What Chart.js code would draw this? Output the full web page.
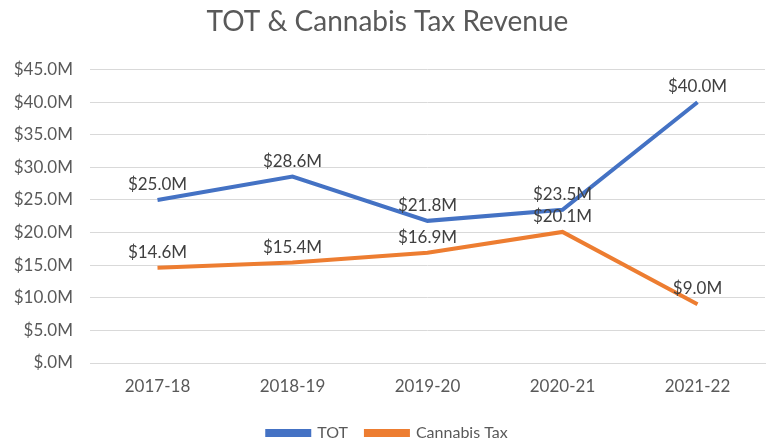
<!DOCTYPE html>
<html>
<head>
<meta charset="utf-8">
<script src="https://cdn.jsdelivr.net/npm/chart.js@4"></script>
<style>
  html, body { margin: 0; padding: 0; background: #fff; }
  #wrap { width: 777px; height: 441px; }
</style>
</head>
<body>
<div id="wrap"><canvas id="revChart"></canvas></div>
<script>
const years = ['2017-18', '2018-19', '2019-20', '2020-21', '2021-22'];
const totRevenue = [25.0, 28.6, 21.8, 23.5, 40.0];
const cannabisRevenue = [14.6, 15.4, 16.9, 20.1, 9.0];

const fmt = v => '$' + (v === 0 ? '.0' : v.toFixed(1)) + 'M';

// draws the value above each point
const valueLabels = {
  id: 'valueLabels',
  afterDatasetsDraw(chart) {
    const ctx = chart.ctx;
    ctx.save();
    ctx.font = '17px Lato, "Liberation Sans", sans-serif';
    ctx.fillStyle = '#404040';
    ctx.textAlign = 'center';
    ctx.textBaseline = 'bottom';
    chart.data.datasets.forEach((ds, i) => {
      chart.getDatasetMeta(i).data.forEach((pt, j) => {
        ctx.fillText(fmt(ds.data[j]), pt.x, pt.y - 7);
      });
    });
    ctx.restore();
  }
};

Chart.defaults.font.family = 'Lato, "Liberation Sans", sans-serif';
Chart.defaults.color = '#595959';

new Chart(document.getElementById('revChart'), {
  type: 'line',
  data: {
    labels: years,
    datasets: [
      {
        label: 'TOT',
        data: totRevenue,
        borderColor: '#4472C4',
        backgroundColor: '#4472C4',
        borderWidth: 4,
        pointRadius: 0,
        tension: 0
      },
      {
        label: 'Cannabis Tax',
        data: cannabisRevenue,
        borderColor: '#ED7D31',
        backgroundColor: '#ED7D31',
        borderWidth: 4,
        pointRadius: 0,
        tension: 0
      }
    ]
  },
  options: {
    responsive: true,
    maintainAspectRatio: false,
    animation: false,
    layout: { padding: { left: 10, right: 12, top: 0, bottom: -10 } },
    plugins: {
      title: {
        display: true,
        text: 'TOT & Cannabis Tax Revenue',
        font: { size: 28, weight: 'normal' },
        color: '#595959',
        padding: { top: 5, bottom: 31 }
      },
      legend: {
        position: 'bottom',
        labels: { boxWidth: 42, boxHeight: 4, font: { size: 16 }, padding: 18 }
      },
      tooltip: { enabled: false }
    },
    scales: {
      x: {
        offset: true,
        afterFit: scale => { scale.height = 44; },
        grid: { display: false },
        border: { color: '#d9d9d9' },
        ticks: { font: { size: 17 }, padding: 5 }
      },
      y: {
        min: 0,
        max: 45,
        afterFit: scale => { scale.width = 80; },
        ticks: { stepSize: 5, font: { size: 17 }, padding: 17, callback: v => fmt(v) },
        grid: { color: '#d9d9d9', drawTicks: false },
        border: { display: false }
      }
    }
  },
  plugins: [valueLabels]
});
</script>
</body>
</html>
